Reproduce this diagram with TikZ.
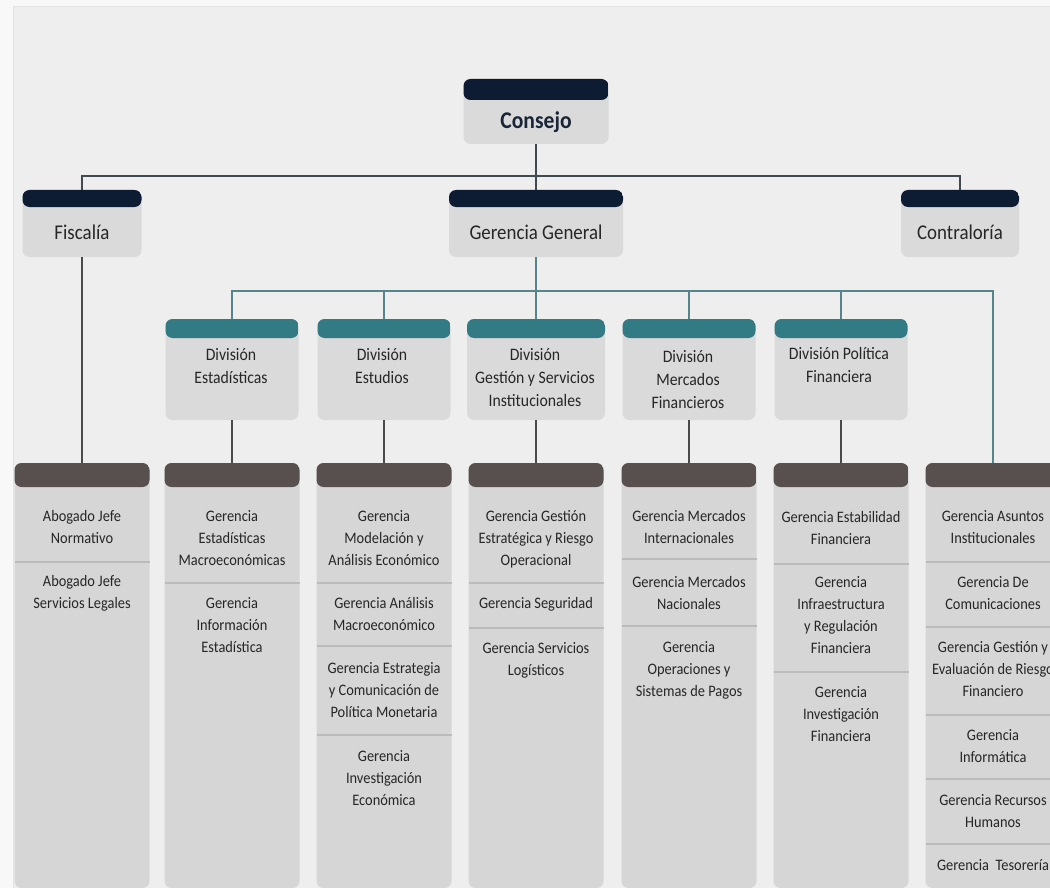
\documentclass[tikz,border=0pt]{standalone}
\usepackage{fontspec}
\setmainfont{Carlito}[FakeStretch=0.9]
\definecolor{pagewhite}{HTML}{F8F8F8}
\definecolor{pagegray}{HTML}{EEEEEE}
\definecolor{pageedge}{HTML}{E2E2E2}
\definecolor{navycap}{HTML}{0E1C33}
\definecolor{tealcap}{HTML}{327A84}
\definecolor{colcap}{HTML}{58504F}
\definecolor{topgray}{HTML}{DADADA}
\definecolor{colgray}{HTML}{D6D6D6}
\definecolor{sepgray}{HTML}{BBBBBB}
\definecolor{busdark}{HTML}{3E4A50}
\definecolor{busteal}{HTML}{55858B}
\definecolor{linkgray}{HTML}{4A4A4A}
\definecolor{inkdark}{HTML}{262626}
\definecolor{inknavy}{HTML}{1B2538}
\begin{document}
\begin{tikzpicture}[x=1pt,y=-1pt,
  shell/.style={fill=#1, rounded corners=7pt, inner sep=0pt, outer sep=0pt, anchor=north, draw=none},
  capped/.style 2 args={path picture={\fill[#1] (path picture bounding box.north west)
      rectangle ([yshift=-#2]path picture bounding box.north east);}},
  topbox/.style={shell=topgray, capped={navycap}{17pt}, minimum height=67pt},
  divbox/.style={shell=topgray, capped={tealcap}{19pt}, minimum width=133pt, minimum height=101pt},
  colbox/.style={shell=colgray, capped={colcap}{24pt}, minimum width=135pt, minimum height=425pt},
  toptext/.style={font=\fontsize{21}{24}\selectfont, text=inkdark, inner sep=0pt},
  divtext/.style={font=\fontsize{17.5}{23}\selectfont, text=inkdark, align=center, inner sep=0pt},
  coltext/.style={font=\fontsize{16}{22}\selectfont, text=inkdark, align=center, inner sep=0pt},
  sepline/.style={draw=sepgray, line width=1.6pt},
  buslineA/.style={draw=busdark, line width=2.4pt},
  buslineB/.style={draw=busteal, line width=1.8pt},
  linkline/.style={draw=linkgray, line width=1.3pt}
]
% page
\useasboundingbox (0,0) rectangle (1050,888);
\fill[pagewhite] (0,0) rectangle (1050,888);
\fill[pagegray] (13,7) rectangle (1050,888);
\draw[pageedge, line width=1pt] (13,888) -- (13,7) -- (1050,7);

% top level
\node[shell=topgray, capped={navycap}{21pt}, minimum width=145pt, minimum height=65pt] (consejo) at (536,79) {};
\node[topbox, minimum width=119pt] (fiscalia) at (82,190) {};
\node[topbox, minimum width=174pt] (gg) at (536,190) {};
\node[topbox, minimum width=118pt] (contra) at (960,190) {};

\node[font=\bfseries\fontsize{24}{26}\selectfont, text=inknavy, inner sep=0pt] (tconsejo) at (536,122) {Consejo};
\node[toptext] (tfisc) at (82,232) {Fiscalía};
\node[toptext] (tgg) at (536,232) {Gerencia General};
\node[toptext] (tcontra) at (960,232) {Contraloría};

% divisions
\node[divbox] (divA) at (232,319) {};
\node[divbox] (divB) at (384,319) {};
\node[divbox, minimum width=138pt] (divC) at (536,319) {};
\node[divbox] (divD) at (689,319) {};
\node[divbox] (divE) at (841,319) {};

\node[divtext] (tdivA) at (231,366) {División\\Estadísticas};
\node[divtext] (tdivB) at (382,366) {División\\Estudios};
\node[divtext] (tdivC) at (535,378) {División\\Gestión y Servicios\\Institucionales};
\node[divtext] (tdivD) at (688,380) {División\\Mercados\\Financieros};
\node[divtext] (tdivE) at (839,365) {División Política\\Financiera};

% columns of gerencias
\node[colbox] (col1) at (82,463) {};
\node[colbox] (col2) at (232,463) {};
\node[colbox] (col3) at (384,463) {};
\node[colbox] (col4) at (536,463) {};
\node[colbox] (col5) at (689,463) {};
\node[colbox] (col6) at (841,463) {};
\node[colbox] (col7) at (993,463) {};

% row separators
\foreach \c/\y in {col1/562, col2/583, col3/583, col3/646, col3/735, col4/583, col4/628,
                   col5/559, col5/626, col6/564, col6/672,
                   col7/562, col7/627, col7/715, col7/779, col7/844}
  \draw[sepline] (\c.west |- 0,\y) -- (\c.east |- 0,\y);

% column texts
\node[coltext] (g11) at (82,527) {Abogado Jefe\\Normativo};
\node[coltext] (g12) at (82,593) {Abogado Jefe\\Servicios Legales};

\node[coltext] (g21) at (232,538) {Gerencia\\Estadísticas\\Macroeconómicas};
\node[coltext] (g22) at (232,625) {Gerencia\\Información\\Estadística};

\node[coltext] (g31) at (384,538) {Gerencia\\Modelación y\\Análisis Económico};
\node[coltext] (g32) at (384,614) {Gerencia Análisis\\Macroeconómico};
\node[coltext] (g33) at (384,690) {Gerencia Estrategia\\y Comunicación de\\Política Monetaria};
\node[coltext] (g34) at (384,778) {Gerencia\\Investigación\\Económica};

\node[coltext] (g41) at (536,539) {Gerencia Gestión\\Estratégica y Riesgo\\Operacional};
\node[coltext] (g42) at (536,604) {Gerencia Seguridad};
\node[coltext] (g43) at (536,660) {Gerencia Servicios\\Logísticos};

\node[coltext] (g51) at (689,527) {Gerencia Mercados\\Internacionales};
\node[coltext] (g52) at (689,593) {Gerencia Mercados\\Nacionales};
\node[coltext] (g53) at (689,670) {Gerencia\\Operaciones y\\Sistemas de Pagos};

\node[coltext] (g61) at (841,528) {Gerencia Estabilidad\\Financiera};
\node[coltext] (g62) at (841,615) {Gerencia\\Infraestructura\\y Regulación\\Financiera};
\node[coltext] (g63) at (841,714) {Gerencia\\Investigación\\Financiera};

\node[coltext] (g71) at (993,527) {Gerencia Asuntos\\Institucionales};
\node[coltext] (g72) at (993,593) {Gerencia De\\Comunicaciones};
\node[coltext] (g73) at (993,669) {Gerencia Gestión y\\Evaluación de Riesgo\\Financiero};
\node[coltext] (g74) at (993,746) {Gerencia\\Informática};
\node[coltext] (g75) at (993,811) {Gerencia Recursos\\Humanos};
\node[coltext] (g76) at (993,865) {Gerencia~~Tesorería};

% connectors
\coordinate (busA) at (536,176);
\coordinate (busB) at (536,291);
\draw[buslineA] (consejo.south) -- (gg.north);
\draw[buslineA] (fiscalia.north) |- (busA) -| (contra.north);
\draw[buslineB] (gg.south) -- (busB);
\draw[buslineB] (divA.north) |- (busB) -| (col7.north);
\foreach \d in {divB, divC, divD, divE}
  \draw[buslineB] (\d.north) -- (\d.north |- busB);
\draw[linkline] (fiscalia.south) -- (col1.north);
\draw[linkline] (divA.south) -- (col2.north);
\draw[linkline] (divB.south) -- (col3.north);
\draw[linkline] (divC.south) -- (col4.north);
\draw[linkline] (divD.south) -- (col5.north);
\draw[linkline] (divE.south) -- (col6.north);
\end{tikzpicture}
\end{document}
